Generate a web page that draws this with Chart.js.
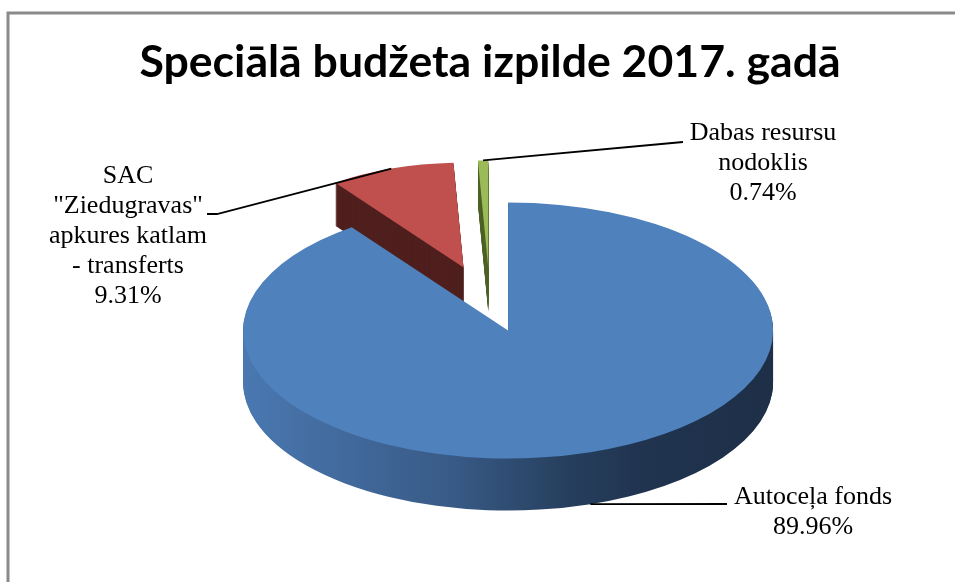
<!DOCTYPE html>
<html>
<head>
<meta charset="utf-8">
<style>html,body{margin:0;padding:0;background:#fff;overflow:hidden}canvas{display:block}</style>
<script src="https://cdn.jsdelivr.net/npm/chart.js@4/dist/chart.umd.min.js"></script>
</head>
<body>
<canvas id="c" width="955" height="582"></canvas>
<script>
// ---- data ----
const titleText = 'Speciālā budžeta izpilde 2017. gadā';
const categories = ['Autoceļa fonds', 'SAC "Ziedugravas" apkures katlam - transferts', 'Dabas resursu nodoklis'];
const shares = [89.96, 9.31, 0.74];
const labelLines = [
  ['Autoceļa fonds'],
  ['SAC', '"Ziedugravas"', 'apkures katlam', '- transferts'],
  ['Dabas resursu', 'nodoklis']
];

// ---- styles ----
const topColors = ['#4F81BD', '#C0504D', '#9BBB59'];
const sideColors = [null, '#4F1F1E', '#4F6228'];
const explode = [0.22, 0.30, 0.28];
const sliceScale = [1, 0.82, 0.84];
const drawOrder = [1, 2, 0];
const RX = 265, RY = 128, DEPTH = 52, LINE_H = 30;
const labelAnchor = [[813, 497], [128, 176], [763, 133]];
const leaderEnds = [[[727, 504]], [[217, 214], [207, 214]], [[683, 142]]];
const leaderFromSide = [true, false, false];

function sliceMatrix(arc, i, d) {
  const R = arc.outerRadius;
  const h = (arc.startAngle + arc.endAngle) / 2;
  const s = sliceScale[i];
  const ex = explode[i] * RX * Math.cos(h), ey = explode[i] * RY * Math.sin(h);
  return {tx: arc.x + ex, ty: arc.y + ey + d, sx: RX / R * s, sy: RY / R * s, cx: arc.x, cy: arc.y};
}
function applyM(ctx, m) { ctx.translate(m.tx, m.ty); ctx.scale(m.sx, m.sy); ctx.translate(-m.cx, -m.cy); }
function mapPt(m, x, y) { return [m.tx + (x - m.cx) * m.sx, m.ty + (y - m.cy) * m.sy]; }
function drawWith(ctx, arc, color) {
  const p = Object.create(arc);
  p.options = Object.assign({}, arc.options, {backgroundColor: color, borderWidth: 0});
  p.draw(ctx);
}

const framePlugin = {
  id: 'frame',
  beforeDraw(chart) {
    const ctx = chart.ctx;
    ctx.save();
    ctx.strokeStyle = '#8A8A8A';
    ctx.lineWidth = 3;
    ctx.beginPath();
    ctx.moveTo(8, 590); ctx.lineTo(8, 13); ctx.lineTo(960, 13);
    ctx.stroke();
    ctx.restore();
  }
};

const pie3dPlugin = {
  id: 'pie3d',
  beforeDatasetsDraw(chart) {
    const ctx = chart.ctx;
    const arcs = chart.getDatasetMeta(0).data;
    drawOrder.forEach(i => {
      const arc = arcs[i];
      const R = arc.outerRadius;
      let side = sideColors[i];
      if (!side) {
        const g = ctx.createLinearGradient(arc.x - R, 0, arc.x + R, 0);
        g.addColorStop(0, '#4A78B1');
        g.addColorStop(0.4, '#385A86');
        g.addColorStop(0.6, '#27405F');
        g.addColorStop(0.75, '#203450');
        g.addColorStop(1, '#1E2F47');
        side = g;
      }
      const depth = Math.round(DEPTH * sliceScale[i]);
      for (let d = depth; d >= 1; d--) {
        ctx.save();
        applyM(ctx, sliceMatrix(arc, i, d));
        drawWith(ctx, arc, side);
        ctx.restore();
      }
      ctx.save();
      applyM(ctx, sliceMatrix(arc, i, 0));
      drawWith(ctx, arc, arc.options.backgroundColor);
      ctx.restore();
    });
    return false;
  }
};

const labelPlugin = {
  id: 'pieLabels',
  afterDraw(chart) {
    const ctx = chart.ctx;
    const arcs = chart.getDatasetMeta(0).data;
    ctx.save();
    arcs.forEach((arc, i) => {
      const d = leaderFromSide[i] ? Math.round(DEPTH * sliceScale[i]) : 0;
      const m = sliceMatrix(arc, i, d);
      const h = (arc.startAngle + arc.endAngle) / 2;
      const st = mapPt(m, arc.x + arc.outerRadius * Math.cos(h), arc.y + arc.outerRadius * Math.sin(h));
      ctx.strokeStyle = '#000';
      ctx.lineWidth = 1.8;
      ctx.beginPath();
      ctx.moveTo(st[0], st[1]);
      leaderEnds[i].forEach(p => ctx.lineTo(p[0], p[1]));
      ctx.stroke();
      const lines = labelLines[i].concat([shares[i].toFixed(2) + '%']);
      ctx.font = '26px "Liberation Serif"';
      ctx.textAlign = 'center';
      ctx.textBaseline = 'middle';
      ctx.fillStyle = '#000';
      lines.forEach((t, j) => ctx.fillText(t, labelAnchor[i][0], labelAnchor[i][1] + j * LINE_H));
    });
    ctx.restore();
  }
};

new Chart(document.getElementById('c'), {
  type: 'pie',
  data: {
    labels: categories,
    datasets: [{ data: shares, backgroundColor: topColors, borderWidth: 0, radius: 200, clip: false }]
  },
  options: {
    responsive: false,
    animation: false,
    events: [],
    layout: { padding: { left: 25, right: 0, top: 0, bottom: 64 } },
    plugins: {
      legend: { display: false },
      tooltip: { enabled: false },
      title: {
        display: true,
        text: titleText,
        color: '#000',
        font: { family: 'Lato', weight: 'bold', size: 44.6, lineHeight: 1.2 },
        padding: { top: 36, bottom: 0 }
      }
    }
  },
  plugins: [framePlugin, pie3dPlugin, labelPlugin]
});
</script>
</body>
</html>
